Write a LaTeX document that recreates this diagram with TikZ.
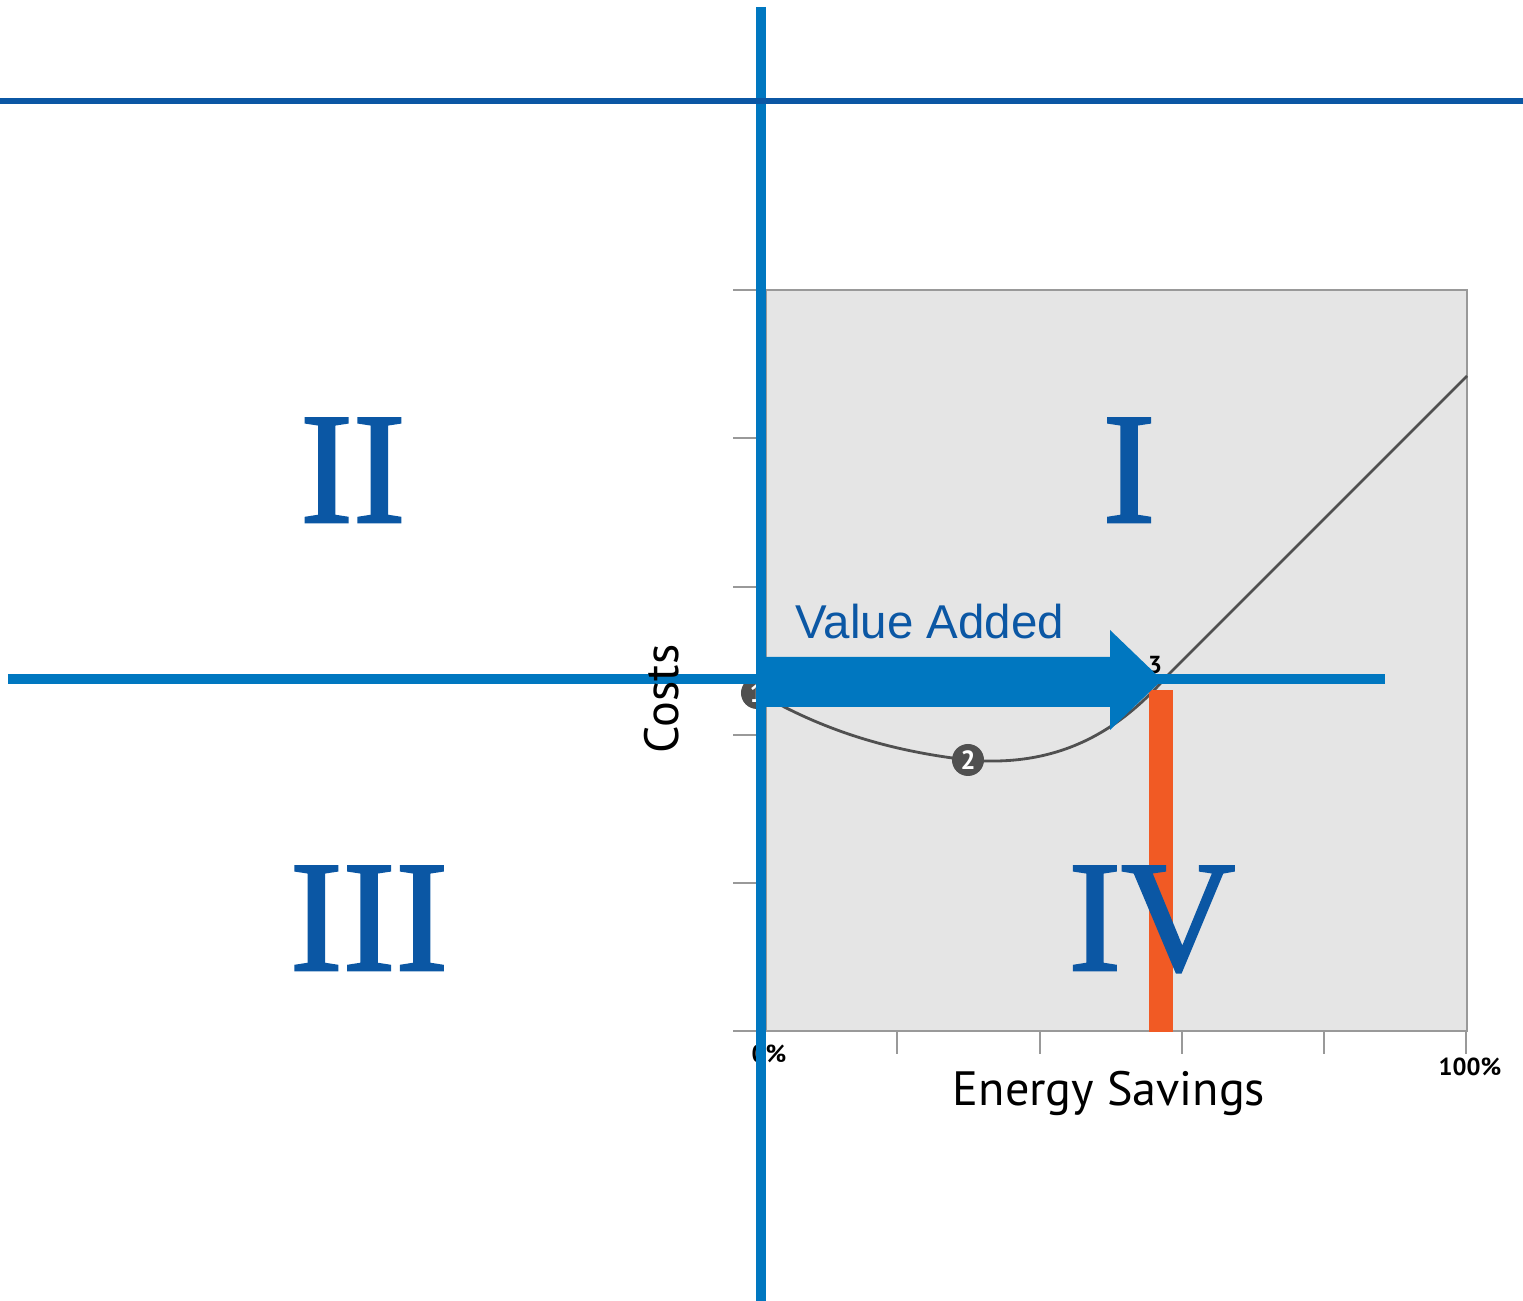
\documentclass[tikz,border=0pt]{standalone}
\usepackage{fontspec}
\setmainfont{Liberation Serif}
\setsansfont{PT Sans}
\newfontfamily\arialfont{Liberation Sans}
\newfontfamily\numeralfont[BoldFont=Liberation Serif,BoldFeatures={FakeBold=1.6}]{Liberation Serif}
\definecolor{axisblue}{HTML}{0077C0}
\definecolor{darkblue}{HTML}{0B57A4}
\definecolor{boxgray}{HTML}{E5E5E5}
\definecolor{tickgray}{HTML}{999999}
\definecolor{curvegray}{HTML}{505050}
\definecolor{barorange}{HTML}{F15A24}

\begin{document}
\begin{tikzpicture}[x=0.01cm,y=-0.01cm,
    numeral/.style={text=darkblue,font=\numeralfont\fontsize{45}{45}\selectfont\bfseries,anchor=base,inner sep=0pt},
    axislabel/.style={font=\sffamily\fontsize{13.7}{13.7}\selectfont,anchor=base,inner sep=0pt},
    ticklabel/.style={font=\sffamily\bfseries\fontsize{7}{7}\selectfont,inner sep=0pt},
    pointmark/.style={circle,fill=curvegray,text=white,font=\sffamily\bfseries\fontsize{7.5}{7.5}\selectfont,inner sep=0pt,minimum size=0.32cm}]
        \useasboundingbox (0,0) rectangle (1523,1301);
        % Draw the chart area
        \draw[tickgray,fill=boxgray,line width=0.4pt] (766,290) rectangle (1467,1031);
        \foreach \y in {290,438,587,735,883,1031}
            \draw[tickgray,line width=0.8pt] (733,\y) -- (766,\y);
        \foreach \x in {897,1040,1182,1324,1466}
            \draw[tickgray,line width=0.8pt] (\x,1031) -- (\x,1054);
        \node[ticklabel] (zero) at (769,1054) {0\%};
        \node[ticklabel] (full) at (1470,1067) {100\%};
        % Draw the cost curve
        \draw[curvegray,line width=0.8pt] (757,692) .. controls (830,735) and (900,752) .. (968,760)
            .. controls (1060,768) and (1120,730) .. (1167,676) -- (1467,376);
        \node[pointmark] (p1) at (757,693) {1};
        \node[pointmark] (p2) at (968,760) {2};
        \node[ticklabel] (p3) at (1155,665) {3};
        % Draw the orange bar
        \fill[barorange] (1149,690) rectangle (1173,1032);
        % Draw the value arrow
        \fill[axisblue] (760,657) -- (1110,657) -- (1110,630) -- (1162,680)
            -- (1110,730) -- (1110,707) -- (760,707) -- cycle;
        % Draw the axes
        \draw[axisblue,line width=2.85pt] (761,7) -- (761,1301);
        \draw[axisblue,line width=2.85pt] (8,679) -- (1385,679);
        \draw[darkblue,line width=1.7pt] (0,101.5) -- (1523,101.5);
        % Labels
        \node[numeral] (q1) at (1129,522) {I};
        \node[numeral] (q2) at (353,522) {II};
        \node[numeral] (q3) at (369,970) {III};
        \node[numeral] (q4) at (1152,970) {IV};
        \node[text=darkblue,font=\arialfont\fontsize{13.5}{13.5}\selectfont,anchor=base,inner sep=0pt] (value) at (930,639) {Value Added};
        \node[axislabel] (savings) at (1109,1106) {Energy Savings};
        \node[axislabel,rotate=90] (costs) at (678,699) {Costs};
    \end{tikzpicture}
\end{document}
